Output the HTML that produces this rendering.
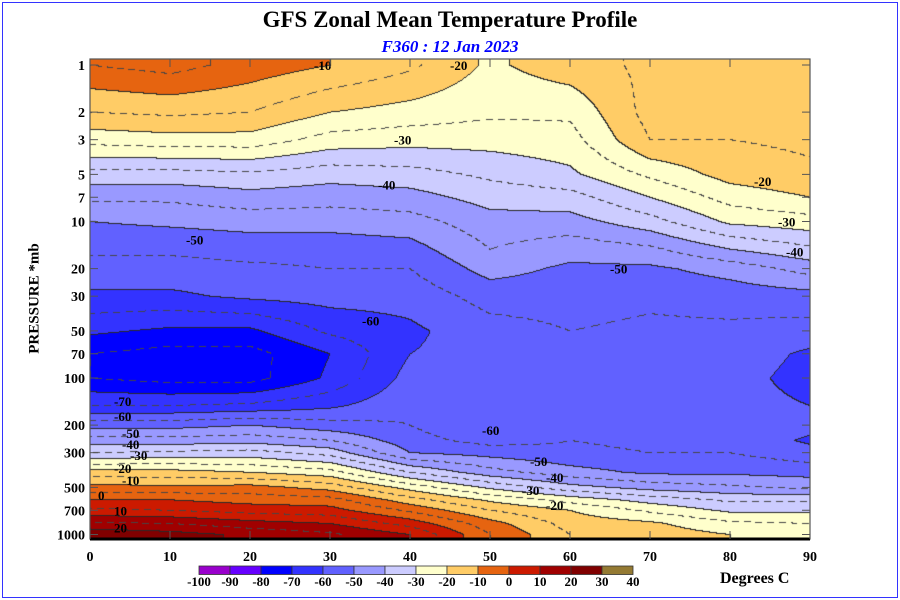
<!DOCTYPE html>
<html><head><meta charset="utf-8"><style>
html,body{margin:0;padding:0;background:#fff;}
#wrap{position:relative;width:900px;height:600px;overflow:hidden;font-family:"Liberation Serif",serif;}
.t{position:absolute;white-space:nowrap;}
</style></head><body>
<div id="wrap">
<div style="position:absolute;left:2px;top:2px;width:894px;height:594px;border:1px solid #3333ff;"></div>
<div class="t" style="left:0;width:900px;top:7px;text-align:center;font-weight:bold;font-size:23px;">GFS Zonal Mean Temperature Profile</div>
<div class="t" style="left:0;width:900px;top:37px;text-align:center;font-weight:bold;font-style:italic;font-size:17px;color:#0000ff;">F360 : 12 Jan 2023</div>
<canvas id="cv" width="720" height="480" style="position:absolute;left:90px;top:59px;"></canvas>
<svg id="ov" width="900" height="600" style="position:absolute;left:0;top:0;"></svg>
<div class="t" style="left:-30px;top:290px;width:130px;text-align:center;font-weight:bold;font-size:15px;transform:rotate(-90deg);">PRESSURE *mb</div>
<div class="t" style="left:720px;top:570px;font-weight:bold;font-size:16px;">Degrees C</div>
</div>
<script>
// ---- data ----
const lats = [0,10,20,30,40,50,60,70,80,90];
const pressures = [1,2,3,5,7,10,15,20,30,50,70,100,150,200,250,300,400,500,600,700,850,1000];
const tLat0  = [-5,-15,-23,-37,-44,-50,-54,-57,-61,-69,-75,-75,-65,-52,-43,-35,-18,-8,0,6,16,24];
const tLat10 = [-3,-14,-22,-37,-44,-49,-54,-57,-61,-71,-77,-77,-65,-52,-43,-34,-18,-9,0,5,15,22];
const tLat20 = [-7,-15,-22,-36,-42,-48,-53,-56,-59,-71,-77,-77,-64,-50,-42,-33,-20,-8,-2,3,12,19];
const tLat30 = [-10,-20,-27,-38,-43,-48,-53,-55,-58,-64,-70,-69,-61,-53,-45,-37,-23,-12,-3,2,10,16];
const tLat40 = [-14,-22,-28,-37,-42,-47,-52,-55,-58,-61,-60,-58,-56,-55,-53,-50,-35,-22,-13,-6,3,10];
const tLat50 = [-21,-24,-28,-34,-38,-42,-45,-48,-53,-57,-58,-58,-58,-60,-57,-52,-43,-31,-21,-15,-8,-5];
const tLat60 = [-17,-24,-27,-31,-37,-42,-48,-51,-53,-55,-56,-56,-56,-56,-55,-54,-48,-38,-27,-20,-17,-15];
const tLat70 = [-14,-13,-15,-24,-30,-37,-46,-51,-54,-56,-57,-57,-57,-57,-56,-55,-51,-42,-32,-26,-19,-17];
const tLat80 = [-14,-15,-15,-18,-23,-29,-40,-48,-53,-56,-57,-58,-58,-57,-56,-55,-51,-44,-36,-31,-24,-20];
const tLat90 = [-14,-13,-14,-16,-20,-27,-36,-43,-52,-57,-61,-62,-60,-58,-61,-58,-52,-46,-36,-31,-25,-24];
const columns = [tLat0,tLat10,tLat20,tLat30,tLat40,tLat50,tLat60,tLat70,tLat80,tLat90];
const levels = [-100,-90,-80,-70,-60,-50,-40,-30,-20,-10,0,10,20,30,40];
const bandColors = ["#9900cc","#6600ff","#0000ff","#3333ff","#6161ff","#9999ff","#ccccff","#ffffcc","#ffcc66","#e66410","#cc1a00","#a00000","#800000","#947a33"];
const yTicks = [1,2,3,5,7,10,20,30,50,70,100,200,300,500,700,1000];
const yTickLabels = ["1","2","3","5","7","10","20","30","50","70","100","200","300","500","700","1000"];
const xTicks = [0,10,20,30,40,50,60,70,80,90];
const contourLabels = [["-10",28,1.0],["-20",45,1.0],["-30",38,3.0],["-40",36,5.8],["-50",12,13],["-60",34,43],["-70",3,140],["-60",3,175],["-50",4,225],["-40",4,265],["-30",5,310],["-20",3,375],["-10",4,450],["0",1,560],["10",3,700],["20",3,900],["-60",49,215],["-50",65,20],["-20",83,5.5],["-30",86,10],["-40",87,15.5],["-50",55,340],["-40",57,430],["-30",54,520],["-20",57,650]];
// ---- axes ----
const X0=90,X1=810,YT=59,YB=539;
function xs(lat){return X0+(lat/90)*(X1-X0);}
function ys(p){return 65+156.5*Math.log10(p);}
function colorOf(T){for(let i=0;i<bandColors.length;i++){if(T<levels[i+1])return i;}return bandColors.length-1;}
function tempAt(lat,logp){
  let ci=Math.min(Math.max(Math.floor(lat/10),0),lats.length-2);
  let fx=Math.min(Math.max((lat-lats[ci])/10,0),1);
  let lp=pressures.map(p=>Math.log10(p));
  let ri=0;
  if(logp<=lp[0]){ri=0;}else if(logp>=lp[lp.length-1]){ri=lp.length-2;}else{while(lp[ri+1]<logp)ri++;}
  let fy=Math.min(Math.max((logp-lp[ri])/(lp[ri+1]-lp[ri]),0),1);
  const a=columns[ci][ri],b=columns[ci+1][ri],c=columns[ci][ri+1],d=columns[ci+1][ri+1];
  return (a*(1-fx)+b*fx)*(1-fy)+(c*(1-fx)+d*fx)*fy;
}
(function draw(){
  const cv=document.getElementById('cv'),ctx=cv.getContext('2d');
  const W=720,H=480,img=ctx.createImageData(W,H);
  const T=new Float32Array(W*H);
  for(let y=0;y<H;y++){const logp=(y+YT-65)/156.5;for(let x=0;x<W;x++){T[y*W+x]=tempAt(x/8,logp);}}
  const rgb=bandColors.map(h=>[parseInt(h.substr(1,2),16),parseInt(h.substr(3,2),16),parseInt(h.substr(5,2),16)]);
  for(let y=0;y<H;y++)for(let x=0;x<W;x++){
    const i=y*W+x,t=T[i];const c=rgb[colorOf(t)];
    let r=c[0],g=c[1],b=c[2];
    const k=Math.floor((t+100)/5);
    let edge=false,solid=false;
    if(x<W-1){const k2=Math.floor((T[i+1]+100)/5);if(k2!==k){edge=true;solid=solid||(Math.max(k,k2)%2===0);}}
    if(y<H-1){const k2=Math.floor((T[i+W]+100)/5);if(k2!==k){edge=true;solid=solid||(Math.max(k,k2)%2===0);}}
    if(edge){if(solid){r=40;g=40;b=40;}else if(((x+y)%12)<7){r=70;g=70;b=70;}}
    img.data[i*4]=r;img.data[i*4+1]=g;img.data[i*4+2]=b;img.data[i*4+3]=255;
  }
  ctx.putImageData(img,0,0);
  const ns="http://www.w3.org/2000/svg",sv=document.getElementById('ov');
  function mk(tag,attrs){const e=document.createElementNS(ns,tag);for(const k in attrs)e.setAttribute(k,attrs[k]);sv.appendChild(e);return e;}
  contourLabels.forEach(cl=>{
    const e=mk('text',{x:xs(cl[1]),y:ys(cl[2])+5,'font-size':13,'font-weight':'bold','font-family':'Liberation Serif, serif'});
    e.textContent=cl[0];
    
    
  });
  const fr=mk('rect',{x:X0,y:YT,width:X1-X0,height:YB-YT,fill:'none',stroke:'#555','stroke-width':1.2});
  
  
  const bl=mk('line',{x1:X0,y1:YB,x2:X1,y2:YB,stroke:'#000','stroke-width':3});
  
  
  yTicks.forEach((p,i)=>{
    const y=ys(p);
    const t1=mk('line',{x1:X0,y1:y,x2:X0+8,y2:y,stroke:'#555','stroke-width':1});
    
    
    const t2=mk('line',{x1:X1-8,y1:y,x2:X1,y2:y,stroke:'#555','stroke-width':1});
    
    
    const tx=mk('text',{x:X0-5,y:y+5,'text-anchor':'end','font-size':14,'font-weight':'bold','font-family':'Liberation Serif, serif'});
    tx.textContent=yTickLabels[i];
    
    
  });
  xTicks.forEach(l=>{
    const x=xs(l);
    const a=mk('line',{x1:x,y1:YT,x2:x,y2:YT+8,stroke:'#555','stroke-width':1});
    
    
    const b=mk('line',{x1:x,y1:YB-8,x2:x,y2:YB,stroke:'#555','stroke-width':1});
    
    
    const tx=mk('text',{x:x,y:561,'text-anchor':'middle','font-size':14,'font-weight':'bold','font-family':'Liberation Serif, serif'});
    tx.textContent=String(l);
    
    
  });
  const LX=199,LW=31;
  bandColors.forEach((c,i)=>{
    const r=mk('rect',{x:LX+i*LW,y:566,width:LW,height:8.5,fill:c,stroke:'#333','stroke-width':0.8});
    
    
  });
  levels.forEach((v,i)=>{
    const tx=mk('text',{x:LX+i*LW,y:586,'text-anchor':'middle','font-size':13,'font-weight':'bold','font-family':'Liberation Serif, serif'});
    tx.textContent=String(v);
    
    
  });
})();
</script>
</body></html>
